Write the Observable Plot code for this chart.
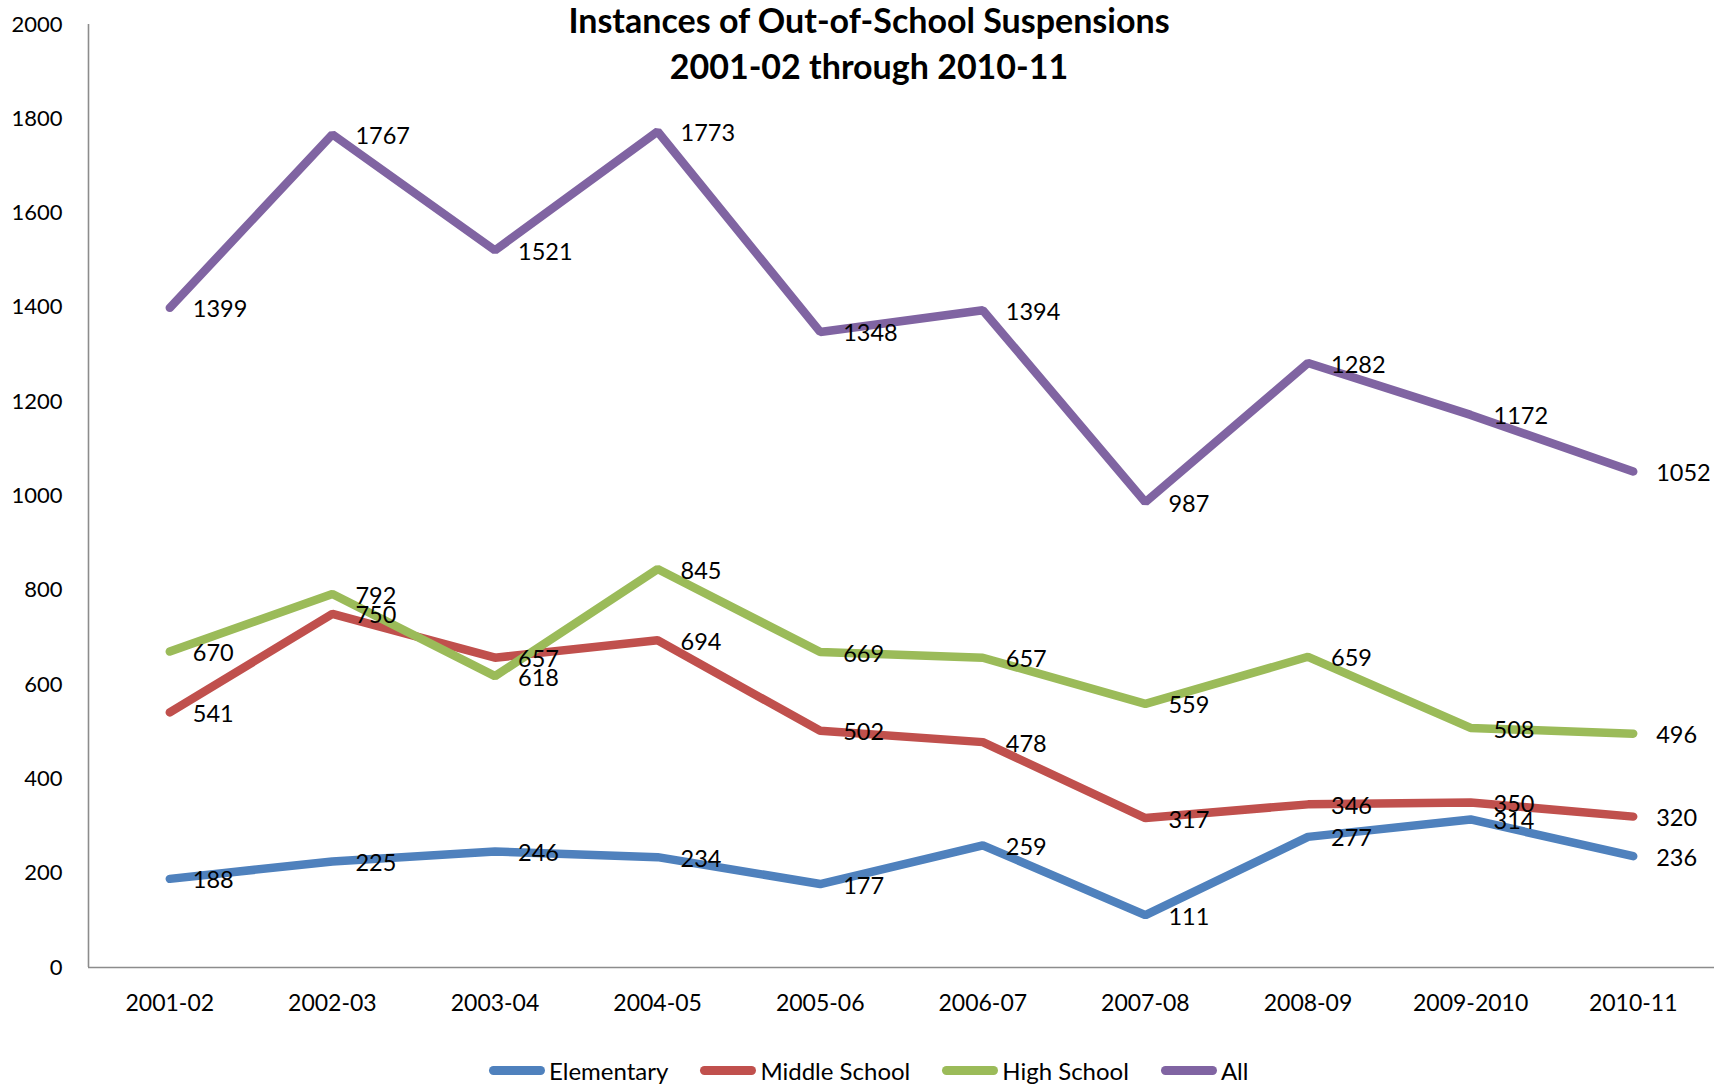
<!DOCTYPE html>
<html>
<head>
<meta charset="utf-8">
<script src="https://cdn.jsdelivr.net/npm/d3@7"></script>
<script src="https://cdn.jsdelivr.net/npm/@observablehq/plot@0.6"></script>
<style>
  body { margin: 0; background: #fff; }
  #wrap { position: relative; width: 1714px; height: 1089px; font-family: Lato, "Open Sans", sans-serif; color: #000; overflow: hidden; }
  #chart { position: absolute; left: 0; top: 0; }
  #title { position: absolute; left: 0; top: -3px; width: 1738px; text-align: center; font-weight: bold; font-size: 34px; line-height: 46px; }
  #legend { position: absolute; left: 489px; top: 1055px; height: 30px; display: flex; align-items: center; font-size: 24px; }
  .item { display: flex; align-items: center; margin-right: 32px; }
  .sw { width: 56px; height: 9px; border-radius: 5px; margin-right: 4px; }
</style>
</head>
<body>
<div id="wrap">
  <div id="chart"></div>
  <div id="title">Instances of Out-of-School Suspensions<br>2001-02 through 2010-11</div>
  <div id="legend"></div>
</div>
<script>
const years = ["2001-02","2002-03","2003-04","2004-05","2005-06","2006-07","2007-08","2008-09","2009-2010","2010-11"];
const seriesNames = ["Elementary","Middle School","High School","All"];
const elementary = [188, 225, 246, 234, 177, 259, 111, 277, 314, 236];
const middleSchool = [541, 750, 657, 694, 502, 478, 317, 346, 350, 320];
const highSchool = [670, 792, 618, 845, 669, 657, 559, 659, 508, 496];
const all = [1399, 1767, 1521, 1773, 1348, 1394, 987, 1282, 1172, 1052];
const yTicks = [0, 200, 400, 600, 800, 1000, 1200, 1400, 1600, 1800, 2000];
const colors = ["#4F81BD", "#C0504D", "#9BBB59", "#8064A2"];

const valuesBySeries = [elementary, middleSchool, highSchool, all];
const data = seriesNames.flatMap((s, si) =>
  years.map((yr, i) => ({ i, year: yr, series: s, value: valuesBySeries[si][i] }))
);

const chart = Plot.plot({
  width: 1714,
  height: 1040,
  marginLeft: 88,
  marginRight: 0,
  marginTop: 24,
  marginBottom: 73,
  style: { fontFamily: "Lato, 'Open Sans', sans-serif", fontSize: "22px", color: "#000", background: "transparent" },
  x: { type: "linear", domain: [-0.5, years.length - 0.5], label: null },
  y: { domain: [0, 2000], label: null },
  color: { domain: seriesNames, range: colors },
  marks: [
    Plot.axisY({ ticks: yTicks, tickSize: 0, tickPadding: 26, fontSize: 22, label: null, tickFormat: d => String(d) }),
    Plot.axisX({ ticks: years.map((_, i) => i), tickSize: 0, tickPadding: 27, fontSize: 23, label: null, tickFormat: i => years[i] }),
    Plot.ruleX([-0.5], { stroke: "#8c8c8c", strokeWidth: 1.6 }),
    Plot.ruleY([0], { stroke: "#8c8c8c", strokeWidth: 1.6 }),
    Plot.line(data, { x: "i", y: "value", z: "series", stroke: "series", strokeWidth: 8.5, strokeLinecap: "round", strokeLinejoin: "miter" }),
    Plot.text(data, { x: "i", y: "value", text: d => String(d.value), textAnchor: "start", dx: 23, dy: 2, fill: "#000", fontSize: 23.5 })
  ]
});
document.getElementById("chart").appendChild(chart);

const legend = document.getElementById("legend");
seriesNames.forEach((s, i) => {
  const item = document.createElement("div");
  item.className = "item";
  const sw = document.createElement("div");
  sw.className = "sw";
  sw.style.background = colors[i];
  const t = document.createElement("span");
  t.textContent = s;
  item.appendChild(sw);
  item.appendChild(t);
  legend.appendChild(item);
});
</script>
</body>
</html>
